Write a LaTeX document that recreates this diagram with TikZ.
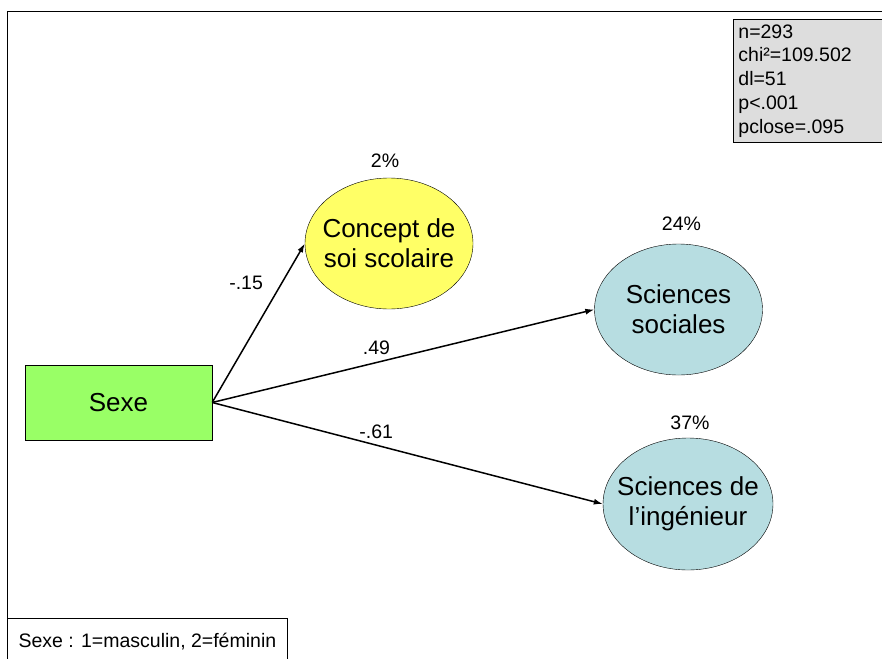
\documentclass[tikz,border=0pt]{standalone}
\usepackage{fontspec}
\setmainfont{Liberation Sans}
\usetikzlibrary{arrows.meta,positioning,shapes.geometric}
\definecolor{SexeGreen}{RGB}{153,255,102}
\definecolor{ConceptYellow}{RGB}{255,255,102}
\definecolor{ScienceBlue}{RGB}{183,221,225}
\definecolor{StatGray}{RGB}{221,221,221}

\begin{document}
\begin{tikzpicture}[
      x=1pt,y=-1pt,
      font=\fontsize{19.5}{23.7}\selectfont,
      latent/.style={draw,ellipse,minimum width=168pt,minimum height=131pt,inner xsep=-16pt,inner ysep=0pt,align=center,font=\fontsize{26}{30}\selectfont},
      observed/.style={draw,fill=SexeGreen,minimum width=187pt,minimum height=75pt,font=\fontsize{26}{30}\selectfont},
      pct/.style={inner sep=1pt},
      coef/.style={inner sep=1pt},
      arrow/.style={-{Latex[length=9pt,width=6pt]},line width=1.5pt}
    ]
      \useasboundingbox (0,0) rectangle (882,658);
      \draw[line width=0.8pt] (7,664) |- (888,11);

      \node[observed] (sexe) at (118.5,402.5) {Sexe};
      \node[latent,fill=ConceptYellow] (concept) at (389,243.5) {Concept de\\soi scolaire};
      \node[latent,fill=ScienceBlue] (sociales) at (678.5,309.5) {Sciences\\sociales};
      \node[latent,fill=ScienceBlue,minimum width=170pt,minimum height=132pt] (ingenieur) at (688,504) {Sciences de\\l’ingénieur};

      \node[pct,above=9pt of concept,xshift=-4pt] (r2concept) {2\%};
      \node[pct,above=12pt of sociales,xshift=3pt] (r2sociales) {24\%};
      \node[pct,above=7pt of ingenieur,xshift=2pt] (r2ingenieur) {37\%};

      \draw[arrow] (sexe.east) -- node[coef,pos=0.75,left=17pt] {-.15} (concept.west);
      \draw[arrow] (sexe.east) -- node[coef,pos=0.43,above=6pt] {.49} (sociales.west);
      \draw[arrow] (sexe.east) -- node[coef,pos=0.42,above=5pt] {-.61} (ingenieur.west);

      \node[draw,line width=0.8pt,fill=StatGray,anchor=north west,text width=140pt,minimum height=123pt,align=left,inner xsep=5pt,inner ysep=5pt]
        (stats) at (733,19) {n=293\\chi²=109.502\\dl=51\\p<.001\\pclose=.095};
      \node[draw,line width=0.8pt,fill=white,anchor=north west,minimum width=280pt,minimum height=46pt]
        (legende) at (7,618) {Sexe : 1=masculin, 2=féminin};
    \end{tikzpicture}
\end{document}
